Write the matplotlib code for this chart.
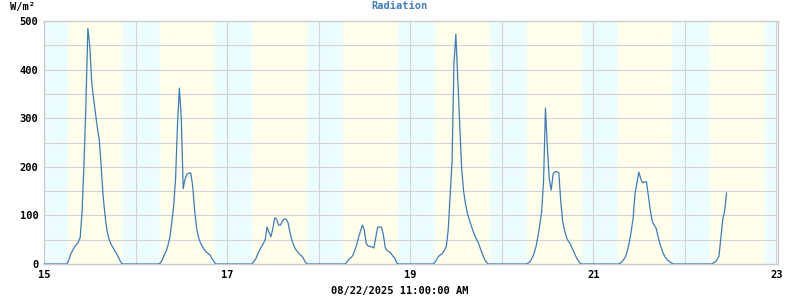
import numpy as np
import matplotlib
matplotlib.use("Agg")
import matplotlib.pyplot as plt

# radiation, W/m2, 30 min steps starting 06:00 each day (nights are 0)
day15 = [0, 8, 20, 28, 35, 40, 45, 55, 110, 210, 330, 485, 450, 375, 340, 310,
         280, 255, 200, 140, 100, 70, 52, 42, 35, 28, 22, 14, 6, 0]
day16 = [0, 2, 8, 18, 26, 38, 55, 85, 120, 175, 285, 362, 300, 155, 175, 185,
         187, 187, 160, 110, 75, 55, 44, 36, 30, 25, 22, 19, 12, 6, 0]
day17 = [0, 0, 5, 10, 20, 28, 35, 42, 50, 76, 65, 56, 72, 95, 92, 80,
         80, 88, 93, 92, 85, 65, 49, 38, 30, 25, 20, 17, 12, 4, 0]
day18 = [0, 0, 0, 5, 10, 13, 18, 28, 40, 55, 68, 80, 70, 42, 37, 36,
         35, 33, 55, 76, 76, 76, 60, 33, 28, 25, 22, 16, 12, 2, 0]
day19 = [0, 3, 10, 16, 19, 22, 28, 36, 70, 140, 210, 410, 473, 380, 290, 200,
         152, 125, 105, 92, 80, 68, 58, 50, 42, 30, 20, 10, 4, 0]
day20 = [0, 0, 2, 5, 12, 22, 35, 55, 80, 108, 170, 321, 240, 175, 152, 185,
         190, 190, 188, 130, 88, 70, 55, 47, 42, 32, 24, 15, 8, 2, 0]
day21 = [0, 0, 1, 4, 9, 15, 28, 45, 68, 95, 145, 168, 189, 175, 167, 169,
         169, 140, 110, 88, 80, 74, 58, 42, 30, 20, 13, 8, 5, 2, 0]
day22 = [0, 0, 0, 2, 4, 9, 16, 55, 92, 110, 146]
days = [15, 16, 17, 18, 19, 20, 21, 22]
segments = [day15, day16, day17, day18, day19, day20, day21, day22]

sunrise = [15.265, 16.268, 17.273, 18.268, 19.273, 20.279, 21.273, 22.279]
sunset = [15.852, 16.869, 17.874, 18.869, 19.874, 20.880, 21.863, 22.880]

xticks = [15, 17, 19, 21, 23]
yticks = [0, 100, 200, 300, 400, 500]

# build time series
t = [15.0]
v = [0]
for d, seg in zip(days, segments):
    for i, val in enumerate(seg):
        t.append(d + 0.25 + i / 48)
        v.append(val)

fig = plt.figure(figsize=(8, 3), dpi=100)
ax = fig.add_axes([44 / 800, 1 - 264 / 300, 734 / 800, 243 / 300])
x0, x1 = 15, 23.02

# day / night background
xs = np.linspace(x0, x1, 1600)
w = np.zeros_like(xs)
for sr, ss in zip(sunrise, sunset):
    a = np.clip((xs - sr) / 0.025 + 0.5, 0, 1) * np.clip((ss - xs) / 0.025 + 0.5, 0, 1)
    w = np.maximum(w, a)
night = np.array([236, 253, 255]) / 255
dayc = np.array([255, 255, 236]) / 255
img = night[None, :] * (1 - w[:, None]) + dayc[None, :] * w[:, None]
ax.imshow(img[None, :, :], extent=[x0, x1, 0, 500], aspect="auto", zorder=0)

for d in range(16, 24):
    ax.axvline(d, color="#d3d3d3", lw=0.8, zorder=1)
for y in range(50, 500, 50):
    ax.axhline(y, color="#d3d3d3", lw=0.8, zorder=1)

ax.plot(t, v, color="#3b7cbf", lw=0.9, zorder=3)

ax.set_xlim(x0, x1)
ax.set_ylim(0, 500)
ax.set_xticks(xticks)
ax.set_yticks(yticks)
font = dict(family="DejaVu Sans Mono", weight="bold", size=7.5)
ax.set_xticklabels([str(x) for x in xticks], **font)
ax.set_yticklabels([str(y) for y in yticks], **font)
ax.tick_params(length=0, pad=4)
for s in ax.spines.values():
    s.set_color("#cccccc")
    s.set_linewidth(1.0)

fig.text(400 / 800, 1 - 6 / 300, "Radiation", ha="center", va="center",
         color="#3f7fbf", **font)
fig.text(10 / 800, 1 - 7 / 300, "W/m²", ha="left", va="center", **font)
fig.text(400 / 800, 1 - 291 / 300, "08/22/2025 11:00:00 AM", ha="center",
         va="center", **font)

fig.savefig("out.png", dpi=100)
